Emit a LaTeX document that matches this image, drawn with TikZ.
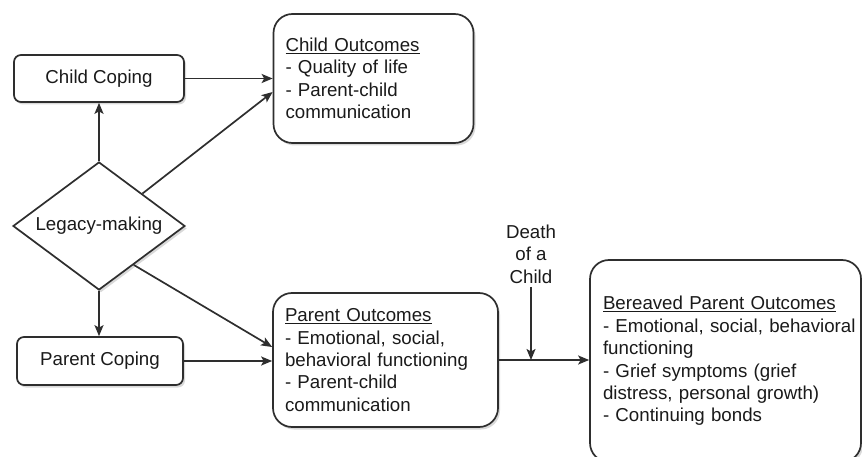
\documentclass[tikz,border=0pt]{standalone}
\usepackage{fontspec}
\setmainfont{Liberation Sans}
\usepackage{xcolor}
\definecolor{lgink}{HTML}{1A1A1A}
\definecolor{lgline}{HTML}{2E2E2E}
\definecolor{lgshade}{HTML}{B4B4B4}
\usetikzlibrary{arrows.meta,calc,shapes.geometric,shadows}
\tikzset{
  lgbox/.style  ={rectangle, draw=lgline, fill=white, line width=1.7pt, text=lgink,
                  font=\fontsize{18.7}{22.4}\selectfont, inner sep=0pt,
                  drop shadow={shadow xshift=2pt, shadow yshift=-2.5pt, fill=lgshade}},
  lgcope/.style ={lgbox, rounded corners=7pt, align=center},
  lgout/.style  ={lgbox, rounded corners=19pt, align=left},
  lgdiam/.style ={diamond, draw=lgline, fill=white, line width=1.7pt, text=lgink,
                  font=\fontsize{18.7}{22.4}\selectfont, inner sep=0pt, aspect=1.34,
                  drop shadow={shadow xshift=2pt, shadow yshift=-2.5pt, fill=lgshade}},
  lgarrow/.style={-{Stealth[length=11pt,width=9pt,inset=2.5pt]}, line width=1.7pt, draw=lgline},
  lglbl/.style  ={font=\fontsize{18.7}{22.4}\selectfont, text=lgink, align=center},
}
\begin{document}
\begin{tikzpicture}[x=1pt, y=-1pt]
  \useasboundingbox (0,0) rectangle (862,457);
  % left column
  \node[lgcope, minimum width=170pt, minimum height=47pt] (cc) at (99,78.5) {Child Coping};
  \node[lgdiam, minimum width=172pt, minimum height=128pt] (lm) at (99,226) {Legacy-making};
  \node[lgcope, minimum width=166pt, minimum height=48pt] (pc) at (100,361) {Parent Coping};
  % outcomes
  \node[lgout, text width=176pt, inner xsep=12pt, minimum height=129pt]
       (co) at (373.5,78.5) {\underline{Child Outcomes}\\- Quality of life\\- Parent-child\\communication};
  \node[lgout, text width=201pt, inner xsep=12pt, minimum height=134pt]
       (po) at (385.5,360) {\underline{Parent Outcomes}\\- Emotional, social,\\behavioral functioning\\- Parent-child\\communication};
  \node[lgout, text width=245pt, inner xsep=13pt, minimum height=202pt]
       (bp) at (725.5,361) {\underline{Bereaved Parent Outcomes}\\\mbox{- Emotional, social, behavioral}\\functioning\\- Grief symptoms (grief\\distress, personal growth)\\- Continuing bonds};
  \node[lglbl] (death) at (531,254) {Death\\of a\\Child};
  % connectors
  \draw[lgarrow] (lm.north) -- (cc.south);
  \draw[lgarrow] (lm.south) -- (lm.south |- pc.north);
  \draw[lgarrow] (cc.east) -- (cc.east -| co.west);
  \draw[lgarrow] ($(lm.east)!0.5!(lm.north)$) -- ([yshift=-13.5pt]co.west);
  \draw[lgarrow] ($(lm.east)!0.6!(lm.south)$) -- ([yshift=13pt]po.west);
  \draw[lgarrow] (pc.east) -- (pc.east -| po.west);
  \draw[lgarrow] (po.east) -- (po.east -| bp.west);
  \coordinate (dj) at (death.south |- po.east);
  \draw[lgarrow] (death.south) -- (dj);
\end{tikzpicture}
\end{document}
